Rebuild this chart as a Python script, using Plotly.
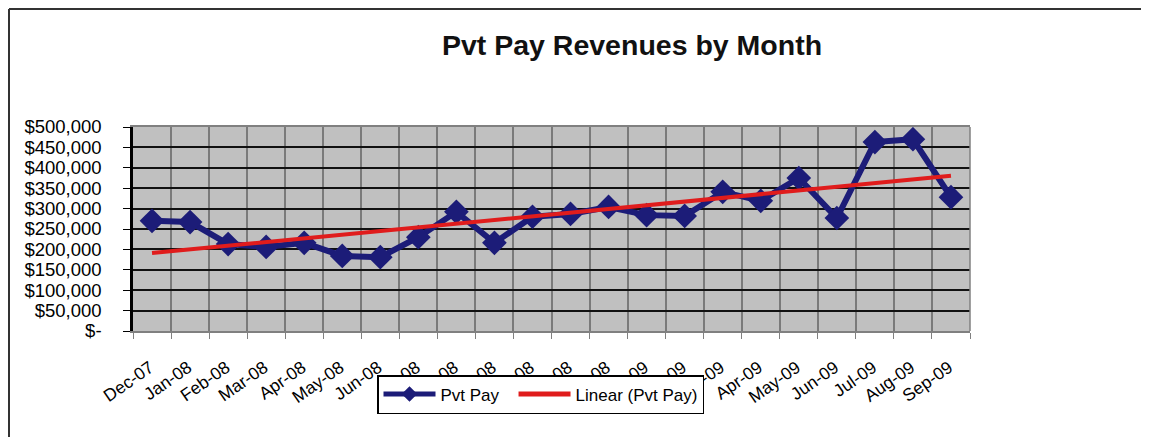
import numpy as np
import plotly.graph_objects as go

months = ["Dec-07", "Jan-08", "Feb-08", "Mar-08", "Apr-08", "May-08", "Jun-08",
          "Jul-08", "Aug-08", "Sep-08", "Oct-08", "Nov-08", "Dec-08", "Jan-09",
          "Feb-09", "Mar-09", "Apr-09", "May-09", "Jun-09", "Jul-09", "Aug-09", "Sep-09"]
pvt_pay = [270000, 267000, 213000, 206000, 216000, 184000, 181000,
           230000, 292000, 216000, 280000, 287000, 304000, 284000,
           282000, 341000, 319000, 375000, 277000, 463000, 470000, 328000]
y_tickvals = [0, 50000, 100000, 150000, 200000, 250000, 300000, 350000, 400000, 450000, 500000]
y_ticktext = ["$-", "$50,000", "$100,000", "$150,000", "$200,000", "$250,000",
              "$300,000", "$350,000", "$400,000", "$450,000", "$500,000"]

# Excel-style linear trendline of the series
idx = np.arange(len(pvt_pay))
slope, intercept = np.polyfit(idx, pvt_pay, 1)
trend = (slope * idx + intercept).tolist()

FONT = "Arial, Liberation Sans, sans-serif"
NB = "\u00a0"

fig = go.Figure()
fig.add_trace(go.Scatter(
    x=months, y=pvt_pay, name="Pvt Pay" + NB * 2, mode="lines+markers",
    line=dict(color="#1c1c78", width=6),
    marker=dict(symbol="diamond", size=19, color="#1c1c78"),
))
fig.add_trace(go.Scatter(
    x=months, y=trend, name="Linear (Pvt Pay)", mode="lines",
    line=dict(color="#e01c1c", width=4),
))

# the page body adds an 8px offset; figure coordinates = window coordinates - 8
OFF = 8
W, H = 1149 - OFF, 437 - OFF
L, R, T, B = 133 - OFF, 970 - OFF, 127 - OFF, 331 - OFF
pw, ph = R - L, B - T

def px_x(x):
    return (x - OFF - L) / pw

def px_y(y):
    return (B - (y - OFF)) / ph

fig.update_layout(
    width=W, height=H, autosize=False,
    margin=dict(l=L, r=W - R, t=T, b=H - B, pad=0),
    paper_bgcolor="white",
    plot_bgcolor="#c0c0c0",
    font=dict(family=FONT, color="black"),
    title=dict(text="Pvt Pay Revenues by Month", x=px_x(632), xref="paper", xanchor="center",
               y=1 - (45 - OFF) / H, yref="container", yanchor="middle",
               font=dict(size=28.5, weight="bold", family=FONT, color="#111")),
    showlegend=True,
    legend=dict(orientation="h", x=px_x(377), y=px_y(375), xanchor="left", yanchor="top",
                bgcolor="white", bordercolor="black", borderwidth=1.5,
                font=dict(size=17, family=FONT), itemwidth=52, itemsizing="constant"),
    shapes=[
        dict(type="line", xref="paper", yref="paper", x0=px_x(OFF + 1), x1=px_x(OFF + 1),
             y0=px_y(OFF + 1), y1=px_y(437), line=dict(color="#333", width=2)),
        dict(type="line", xref="paper", yref="paper", x0=px_x(OFF + 1), x1=px_x(1149),
             y0=px_y(OFF + 1), y1=px_y(OFF + 1), line=dict(color="#333", width=2)),
        dict(type="line", xref="paper", yref="paper", x0=1, x1=1, y0=0, y1=1,
             line=dict(color="#808080", width=1.5)),
    ],
)
fig.update_xaxes(
    type="category", tickson="boundaries", range=[-0.5, len(months) - 0.5],
    automargin=False,
    showgrid=True, gridcolor="#7a7a7a", gridwidth=1.5,
    showline=True, linecolor="#808080", linewidth=1.5, mirror=True,
    ticks="outside", ticklen=6, tickcolor="#808080",
    tickangle=-35, tickfont=dict(size=17.5, family=FONT), ticklabelshift=-2,
    ticklabelstandoff=18,
)
fig.update_yaxes(
    range=[0, 500000], tickvals=y_tickvals, ticktext=y_ticktext,
    automargin=False,
    showgrid=True, gridcolor="#111", gridwidth=1.5, zeroline=False,
    showline=True, linecolor="black", linewidth=2.5,
    ticks="outside", ticklen=7, tickcolor="black",
    tickfont=dict(size=18.5, family=FONT), ticklabelstandoff=18,
)

fig.write_html("out.html")
